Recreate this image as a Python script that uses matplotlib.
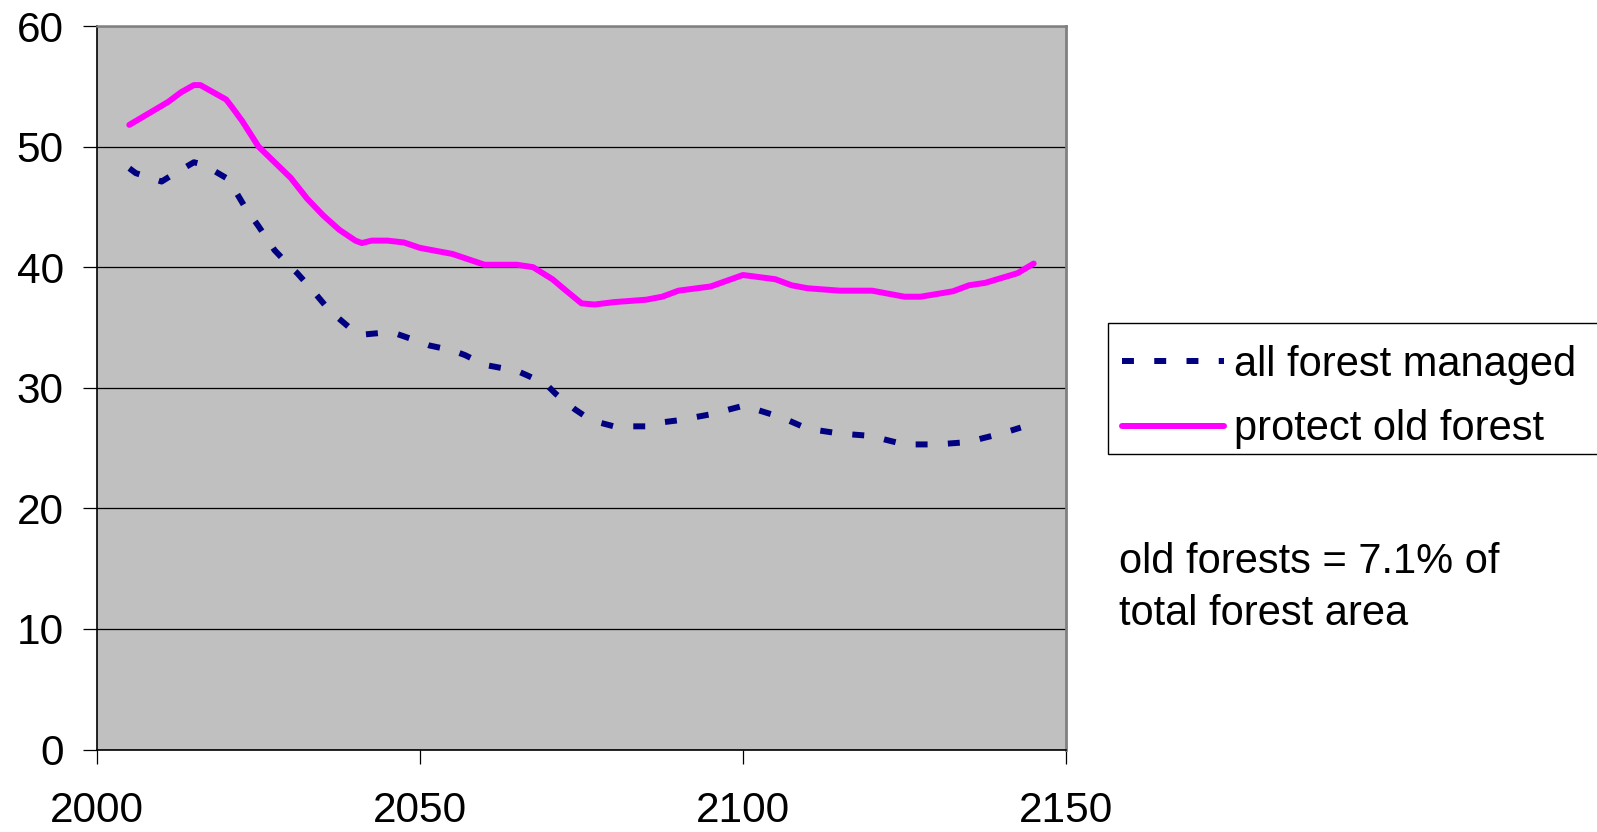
import matplotlib
matplotlib.use("Agg")
import matplotlib.pyplot as plt
from matplotlib.patches import Rectangle

plt.rcParams['font.family'] = ['Liberation Sans', 'DejaVu Sans']

# ---- data ----
years_managed = [2005, 2006, 2010, 2011.5, 2015, 2016.5, 2020, 2021, 2023, 2025,
                 2027.5, 2030, 2031, 2033.5, 2036, 2039.5, 2041, 2045, 2046.5, 2050,
                 2051.5, 2055, 2057, 2060, 2065, 2066.5, 2069.5, 2071, 2074, 2076.5,
                 2080, 2085, 2087, 2090, 2095, 2100, 2102, 2105, 2107, 2110,
                 2115, 2120, 2122, 2125, 2130, 2135, 2137, 2140, 2143]
vals_managed = [48.2, 47.8, 47.1, 47.6, 48.7, 48.5, 47.4, 46.7, 44.9, 43.4,
                41.4, 40.0, 39.5, 38.0, 36.4, 34.8, 34.4, 34.6, 34.45, 33.8,
                33.5, 33.1, 32.7, 31.9, 31.4, 31.05, 30.3, 29.5, 28.2, 27.3,
                26.8, 26.8, 27.1, 27.3, 27.8, 28.5, 28.2, 27.7, 27.3, 26.6,
                26.2, 26.0, 25.7, 25.3, 25.3, 25.5, 25.8, 26.2, 26.7]

years_protect = [2005, 2011, 2013, 2015, 2016, 2020, 2021, 2022.5, 2025, 2027.5,
                 2030, 2032.5, 2035, 2037.5, 2040, 2041, 2042.5, 2045, 2047.5, 2050,
                 2055, 2060, 2065, 2067.5, 2070.5, 2072.5, 2075, 2077, 2080, 2085,
                 2087.5, 2090, 2095, 2100, 2105, 2107.5, 2110, 2115, 2120, 2125,
                 2127.5, 2132.5, 2135, 2137.5, 2142.5, 2145]
vals_protect = [51.8, 53.7, 54.5, 55.1, 55.1, 53.9, 53.2, 52.1, 50.0, 48.7,
                47.4, 45.7, 44.3, 43.1, 42.2, 42.0, 42.2, 42.2, 42.05, 41.6,
                41.1, 40.2, 40.2, 40.0, 39.0, 38.1, 37.0, 36.9, 37.1, 37.3,
                37.55, 38.05, 38.4, 39.35, 39.0, 38.5, 38.25, 38.05, 38.05, 37.55,
                37.55, 38.0, 38.5, 38.7, 39.5, 40.3]

series_labels = ["all forest managed", "protect old forest"]
x_ticks = [2000, 2050, 2100, 2150]
y_ticks = [0, 10, 20, 30, 40, 50, 60]
note_lines = ["old forests = 7.1% of", "total forest area"]

W, H = 1597, 832
fig = plt.figure(figsize=(W / 100, H / 100), dpi=100)
ax = fig.add_axes([97 / W, 1 - 749.5 / H, (1066 - 97) / W, (749.5 - 26) / H])
ax.set_facecolor('#C0C0C0')

LW = 4.3
l1, = ax.plot(years_managed, vals_managed, color='#000080', lw=LW,
              label=series_labels[0], solid_capstyle='butt', dash_capstyle='butt')
l1.set_dashes((2.0, 3.4))
l2, = ax.plot(years_protect, vals_protect, color='#FF00FF', lw=LW,
              label=series_labels[1], solid_capstyle='round', solid_joinstyle='round')

ax.set_xlim(2000, 2150)
ax.set_ylim(0, 60)
ax.set_xticks(x_ticks)
ax.set_yticks(y_ticks)
ax.yaxis.grid(True, color='black', lw=0.9)
ax.set_axisbelow(True)

ax.tick_params(axis='both', direction='out', length=10, width=0.9, color='black',
               labelsize=30.5)
ax.tick_params(axis='x', pad=20)
ax.tick_params(axis='y', pad=14)

ax.spines['left'].set_color('black')
ax.spines['left'].set_linewidth(1.2)
ax.spines['bottom'].set_color('black')
ax.spines['bottom'].set_linewidth(1.2)
ax.spines['top'].set_color('#808080')
ax.spines['top'].set_linewidth(1.8)
ax.spines['right'].set_color('#808080')
ax.spines['right'].set_linewidth(2.0)

# legend frame drawn separately
fig.patches.append(Rectangle((1108 / W, 1 - 454 / H), (W + 10 - 1108) / W, (454 - 323.3) / H,
                             transform=fig.transFigure, facecolor='white',
                             edgecolor='black', lw=1.0, zorder=1))

leg = fig.legend(handles=[l1, l2], loc='upper left',
                 bbox_to_anchor=(1108 / W, 1 - 331 / H),
                 borderaxespad=0, fontsize=30,
                 handlelength=2.45, handletextpad=0.24, borderpad=0.33,
                 labelspacing=0.59, frameon=False)
leg.set_zorder(3)

fig.text(1119 / W, 1 - 573 / H, note_lines[0], fontsize=30, ha='left', va='baseline')
fig.text(1119 / W, 1 - 625 / H, note_lines[1], fontsize=30, ha='left', va='baseline')

fig.savefig("out.png", dpi=100, facecolor='white')
